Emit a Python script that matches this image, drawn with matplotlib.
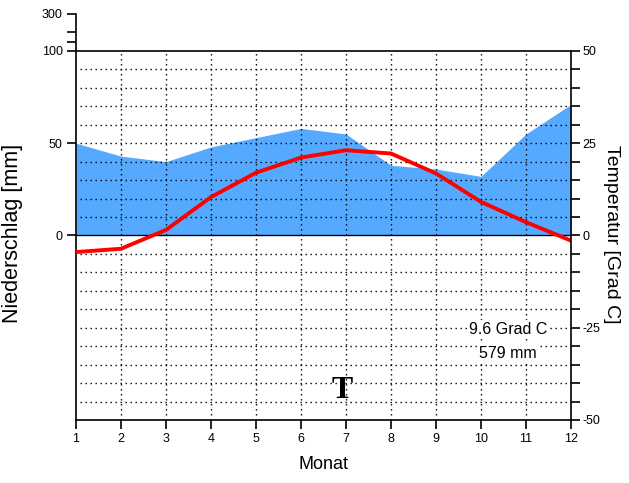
import numpy as np
import matplotlib
matplotlib.use('Agg')
import matplotlib.pyplot as plt

plt.rcParams['font.family'] = ['Liberation Sans', 'DejaVu Sans']

months = np.arange(1, 13)
precip = [50, 43, 40, 48, 53, 58, 55, 38, 36, 32, 55, 71]   # mm
temp = [-4.5, -3.6, 1.5, 10.4, 17.0, 21.1, 23.1, 22.2, 16.8, 9.1, 3.6, -1.4]  # Grad C
mean_text = '9.6 Grad C'
sum_text = '579 mm'

# left axis: 0..100 mm -> 0..50 (10 C = 20 mm), above 100 mm scale 1:20
left_mm = [0, 50, 100, 150, 200, 300]
left_lbl = ['0', '50', '100', '', '', '300']

def mm2y(v):
    v = np.asarray(v, dtype=float)
    return np.where(v <= 100, v / 2.0, 50 + (v - 100) / 20.0)

fig = plt.figure(figsize=(6.29, 4.83), dpi=100)
ax = fig.add_axes([76/629, 63/483, 495/629, 406/483])
ax.set_xlim(1, 12)
ax.set_ylim(-50, 60)

ax.fill_between(months, 0, mm2y(precip), color='#55aaff', lw=0, zorder=1)

dots = (0, (1, 2.6))
for yy in np.arange(-45, 50, 5):
    if yy == 0:
        continue
    ax.plot([1.08, 12], [yy, yy], color='black', lw=1, ls=dots, zorder=2)
for xx in range(2, 12):
    ax.plot([xx, xx], [-50, 50], color='black', lw=1, ls=dots, zorder=2)
ax.plot([1, 12], [0, 0], color='black', lw=1, zorder=3)
ax.plot([1, 12], [50, 50], color='black', lw=1.2, zorder=3)

ax.plot(months, temp, color='#ff0000', lw=2.8, zorder=4, solid_joinstyle='round')

ax.spines['top'].set_visible(False)
ax.spines['right'].set_visible(False)
for s in ['left', 'bottom']:
    ax.spines[s].set_linewidth(1.2)

ax.set_yticks(mm2y(left_mm))
ax.set_yticklabels(left_lbl)
ax.set_xticks(months)
ax.tick_params(axis='both', direction='out', length=6.5, width=1.2, labelsize=9, pad=3)
ax.set_xlabel('Monat', fontsize=13, labelpad=8)
ax.set_ylabel('Niederschlag [mm]', fontsize=15.5)
ax.yaxis.set_label_coords(-0.108, 0.46)

ax2 = ax.twinx()
ax2.set_ylim(-50, 60)
ax2.spines['right'].set_bounds(-50, 50)
ax2.spines['right'].set_linewidth(1.2)
for s in ['top', 'left', 'bottom']:
    ax2.spines[s].set_visible(False)
rt = np.arange(-50, 55, 5)
ax2.set_yticks(rt)
ax2.set_yticklabels([str(v) if v % 25 == 0 else '' for v in rt])
ax2.tick_params(axis='y', direction='out', length=6.5, width=1.2, labelsize=9, pad=2)
ax2.set_ylabel('Temperatur [Grad C]', fontsize=14, rotation=270)
ax2.yaxis.set_label_coords(1.098, 0.458)

box = dict(facecolor='white', edgecolor='none', pad=1.5)
ax.text(10.6, -25.5, mean_text, fontsize=11.5, ha='center', va='center', bbox=box, zorder=5)
ax.text(10.6, -32, sum_text, fontsize=11.5, ha='center', va='center', bbox=box, zorder=5)
ax.text(6.91, -42, 'T', fontsize=23, fontweight='bold', family='Liberation Serif',
        ha='center', va='center', zorder=5)

fig.savefig('out.png', dpi=100)
